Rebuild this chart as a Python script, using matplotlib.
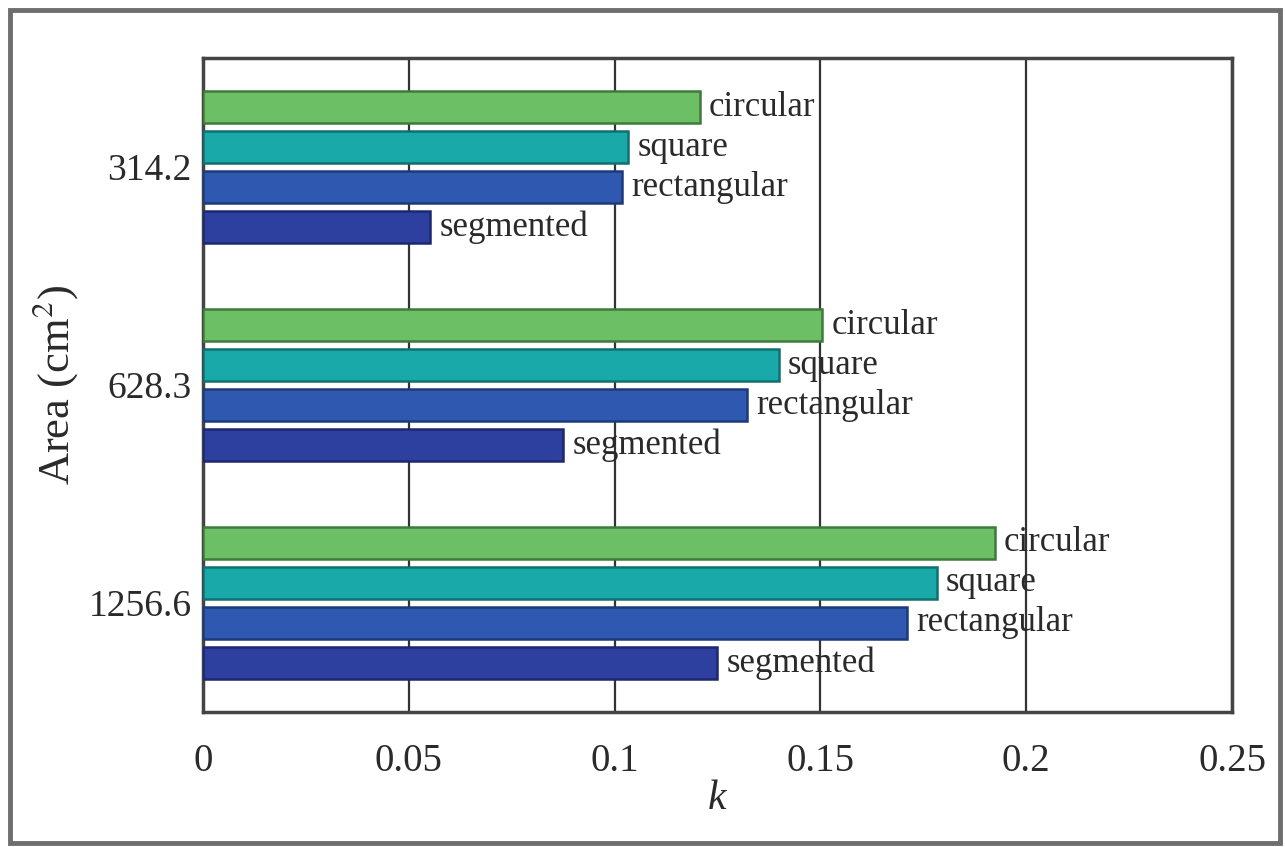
import numpy as np
import matplotlib.pyplot as plt
from matplotlib.patches import Rectangle

# --- Data ---
areas = ['314.2', '628.3', '1256.6']
shapes = ['circular', 'square', 'rectangular', 'segmented']
k_circular = [0.1207, 0.1504, 0.1924]
k_square = [0.1033, 0.1399, 0.1783]
k_rectangular = [0.1018, 0.1322, 0.1710]
k_segmented = [0.0552, 0.0875, 0.1249]
xticks = [0, 0.05, 0.1, 0.15, 0.2, 0.25]
xtick_labels = ['0', '0.05', '0.1', '0.15', '0.2', '0.25']

colors = ['#6cbf64', '#1aa9a9', '#2f58b0', '#2d3f9f']
edges = ['#3e7a3a', '#10706f', '#1d3a7a', '#1c2870']

plt.rcParams['font.family'] = ['Liberation Serif', 'DejaVu Serif']
plt.rcParams['mathtext.fontset'] = 'stix'

fig = plt.figure(figsize=(12.85, 8.47), dpi=100)
ax = fig.add_axes([0.158, 0.1594, 0.8008, 0.7721])

# outer frame around the whole picture
fig.patches.append(Rectangle((10 / 1285, 4 / 847), 1270 / 1285, 833 / 847,
                             transform=fig.transFigure, fill=False,
                             edgecolor='#6e6e6e', linewidth=3.5))

series = [k_circular, k_square, k_rectangular, k_segmented]
group_pos = np.arange(1, len(areas) + 1)
pitch = 0.1835
height = 0.148
offsets = (np.arange(len(shapes)) - 1.5) * pitch

for i, (vals, name) in enumerate(zip(series, shapes)):
    ypos = group_pos + offsets[i]
    ax.barh(ypos, vals, height=height, color=colors[i], edgecolor=edges[i],
            linewidth=1.8, zorder=3)
    for y, v in zip(ypos, vals):
        ax.text(v + 0.0022, y, name, va='center', ha='left', fontsize=25,
                color='#2a2a2a', zorder=4)

ax.set_xlim(0, 0.25)
ax.set_ylim(3.5, 0.5)
ax.set_xticks(xticks)
ax.set_xticklabels(xtick_labels, fontsize=28, color='#2a2a2a')
ax.set_yticks(group_pos)
ax.set_yticklabels(areas, fontsize=27, color='#2a2a2a')
ax.tick_params(length=0)
ax.tick_params(axis='x', pad=22)
ax.tick_params(axis='y', pad=8)
ax.xaxis.grid(True, color='#333333', linewidth=1.6, zorder=1)
ax.set_axisbelow(True)
for s in ax.spines.values():
    s.set_linewidth(2.5)
    s.set_color('#444444')

ax.set_xlabel('k', fontsize=30, fontstyle='italic', color='#2a2a2a', labelpad=0)
ax.set_ylabel('Area (cm$^2$)', fontsize=32, color='#2a2a2a', labelpad=6)

fig.savefig('out.png', dpi=100)
